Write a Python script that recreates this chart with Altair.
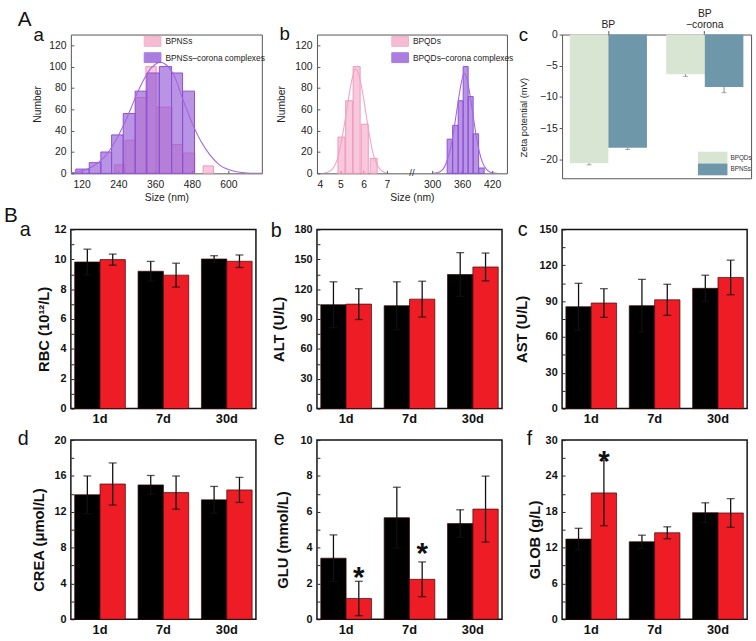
import altair as alt
import pandas as pd

FONT = "Liberation Sans"

# ---------------- Panel A-a : size distribution, BPNSs ----------------
aa_series = ["BPNSs", "BPNSs–corona complexes"]
aa_pink_start = [228, 262, 296, 330, 364, 415, 452, 517]
aa_pink_end = [262, 296, 330, 364, 415, 450, 490, 551]
aa_pink_count = [8, 31, 71, 100, 62, 27, 19, 7]
aa_purple_start = [101, 145, 183, 218, 256, 295, 333, 374, 414, 450]
aa_purple_end = [145, 183, 218, 256, 295, 333, 374, 414, 450, 489]
aa_purple_count = [4, 10, 20, 36, 56, 77, 94, 100, 94, 77]
aa_fit_x = [85, 110, 140, 170, 200, 230, 260, 280, 300, 320, 340, 360, 376, 395,
            420, 450, 480, 510, 540, 570, 600, 630, 660, 709]
aa_fit_y = [0.5, 1.5, 4, 9, 17, 30, 47, 60, 74, 86, 96, 102, 104, 102,
            93, 70, 48, 30, 17, 8, 3.5, 1.3, 0.4, 0]
aa_ticks = [120, 240, 360, 480, 600]
a_count_ticks = [0, 20, 40, 60, 80, 100, 120]

# ---------------- Panel A-b : size distribution, BPQDs (broken axis) ----------------
ab_series = ["BPQDs", "BPQDs–corona complexes"]
ab_qd_start = [4.90, 5.23, 5.55, 5.90, 6.28]
ab_qd_end = [5.20, 5.53, 5.85, 6.20, 6.58]
ab_qd_count = [34, 68, 100, 46, 14]
ab_qdc_start = [330, 341, 352, 362, 372, 382, 393]
ab_qdc_end = [341, 352, 362, 372, 382, 393, 404]
ab_qdc_count = [32, 45, 68, 100, 72, 37, 5]
ab_qd_fit_x = [4.3, 4.5, 4.7, 4.9, 5.1, 5.3, 5.5, 5.65, 5.8, 6.0, 6.2, 6.4, 6.6, 6.8, 7.0]
ab_qd_fit_y = [0.3, 1.5, 5, 15, 36, 63, 88, 98, 92, 70, 42, 19, 7, 2, 0.3]
ab_qdc_fit_x = [300, 310, 320, 330, 340, 350, 358, 364, 370, 380, 390, 400, 410, 420, 430]
ab_qdc_fit_y = [0.1, 0.6, 3, 12, 31, 61, 84, 94, 88, 60, 30, 11, 3, 0.6, 0.1]
ab_ticks_left = [4, 5, 6, 7]
ab_ticks_right = [300, 360, 420]
ab_left_end = 8.0      # last size shown before the break
ab_right_start = 263   # first size shown after the break

# broken-axis mapping (position units along the axis)
AB_LK = 23.7     # per nm, left segment
AB_RK = 0.508    # per nm, right segment
AB_R0 = 117.0    # position of 300 nm


def pos_left(s):
    return (s - 4.0) * AB_LK


def pos_right(s):
    return AB_R0 + (s - 300.0) * AB_RK


# ---------------- Panel A-c : zeta potential ----------------
ac_groups = ["BP", "BP−corona"]
ac_labels = ["BP", "−corona"]
ac_label_top = ["", "BP"]
ac_series = ["BPQDs", "BPNSs"]
ac_bpqds = [-20.6, -6.35]
ac_bpqds_err = [0.25, 0.35]
ac_bpns = [-18.1, -8.4]
ac_bpns_err = [0.3, 0.9]

# ---------------- Panel B : blood biochemistry ----------------
b_days = ["1d", "7d", "30d"]
rbc_ctrl = [9.82, 9.2, 10.02]
rbc_ctrl_err = [0.86, 0.66, 0.22]
rbc_bp = [9.98, 8.94, 9.87]
rbc_bp_err = [0.37, 0.8, 0.42]
alt_ctrl = [104.4, 103.4, 134.7]
alt_ctrl_err = [23, 24, 22]
alt_bp = [105, 110, 142.3]
alt_bp_err = [15.5, 18, 14]
ast_ctrl = [85.3, 86.2, 100.7]
ast_ctrl_err = [19.6, 22, 11]
ast_bp = [88.4, 91.1, 109.8]
ast_bp_err = [12, 13, 14.5]
crea_ctrl = [13.9, 15.0, 13.33]
crea_ctrl_err = [2.1, 1.05, 1.5]
crea_bp = [15.1, 14.14, 14.44]
crea_bp_err = [2.35, 1.85, 1.4]
glu_ctrl = [3.41, 5.67, 5.34]
glu_ctrl_err = [1.3, 1.7, 0.77]
glu_bp = [1.16, 2.23, 6.15]
glu_bp_err = [0.96, 0.97, 1.84]
glob_ctrl = [13.43, 12.98, 17.85]
glob_ctrl_err = [1.8, 1.1, 1.65]
glob_bp = [21.16, 14.48, 17.8]
glob_bp_err = [5.5, 1.0, 2.4]
glu_stars_day = ["1d", "7d"]
glu_stars_y = [2.76, 4.05]
glob_stars_day = ["1d"]
glob_stars_y = [27.6]

PINK_F, PINK_S, PINK_L = "#f4a6c6", "#ef98bb", "#f2a2c2"
PURP_F, PURP_S, PURP_L = "#8e52d3", "#8c4fd4", "#a566dc"


def letter_layer(txt, dx, dy, size=20):
    return alt.Chart(pd.DataFrame({"t": [txt]})).mark_text(
        font=FONT, fontSize=size, align="left", baseline="alphabetic", color="#111"
    ).encode(x=alt.value(dx), y=alt.value(dy), text="t:N")


A_AX = dict(labelFont=FONT, labelFontSize=10.5, labelColor="#222", titleFont=FONT,
            titleFontSize=10.5, titleFontWeight="normal", titleColor="#222",
            domain=False, grid=False, tickSize=3, offset=-3, tickColor="#555")


def hist_legend(lx):
    return alt.Legend(title=None, orient="none", legendX=lx, legendY=1.5,
                      symbolType="M-1.7,-1H1.7V1H-1.7Z", symbolSize=100,
                      symbolStrokeWidth=1, symbolOpacity=0.75, labelFont=FONT,
                      labelFontSize=8.5, labelColor="#222", labelOffset=7.5,
                      rowPadding=1.5, padding=0)


# ----- A-a chart -----
aa_df = pd.DataFrame({
    "start": aa_pink_start + aa_purple_start,
    "end": aa_pink_end + aa_purple_end,
    "count": aa_pink_count + aa_purple_count,
    "series": [aa_series[0]] * len(aa_pink_start) + [aa_series[1]] * len(aa_purple_start),
})
aa_fit = pd.DataFrame({"x": aa_fit_x, "y": aa_fit_y})
aa_xs = alt.Scale(domain=[85, 709], nice=False, zero=False)
a_ys = alt.Scale(domain=[0, 130], nice=False)
aa_xax = alt.Axis(values=aa_ticks, title="Size (nm)", labelPadding=6, titlePadding=3, **A_AX)
aa_yax = alt.Axis(values=a_count_ticks, title="Number", labelPadding=5, titleX=-32, **A_AX)
aa_leg = hist_legend(77.5)
aa_bars = alt.Chart(aa_df).mark_bar(fillOpacity=0.62, strokeWidth=1).encode(
    x=alt.X("start:Q", scale=aa_xs, axis=aa_xax), x2="end:Q",
    y=alt.Y("count:Q", scale=a_ys, axis=aa_yax), y2=alt.datum(0),
    fill=alt.Fill("series:N", scale=alt.Scale(domain=aa_series, range=[PINK_F, PURP_F]), legend=aa_leg),
    stroke=alt.Stroke("series:N", scale=alt.Scale(domain=aa_series, range=[PINK_S, PURP_S]), legend=aa_leg),
)
aa_line = alt.Chart(aa_fit).mark_line(color=PURP_L, strokeWidth=1.1, interpolate="monotone", clip=True).encode(
    x=alt.X("x:Q", scale=aa_xs, axis=aa_xax), y=alt.Y("y:Q", scale=a_ys, axis=aa_yax))
panel_aa = alt.layer(aa_bars, aa_line, letter_layer("a", -38, 6.5, 19),
                     letter_layer("A", -54, -8.5, 21)).properties(
    width=194, height=141, view=alt.ViewBackground(stroke="#555", strokeWidth=1))

# ----- A-b chart -----
ab_df = pd.DataFrame({
    "start": [pos_left(s) for s in ab_qd_start] + [pos_right(s) for s in ab_qdc_start],
    "end": [pos_left(s) for s in ab_qd_end] + [pos_right(s) for s in ab_qdc_end],
    "count": ab_qd_count + ab_qdc_count,
    "series": [ab_series[0]] * len(ab_qd_start) + [ab_series[1]] * len(ab_qdc_start),
})
ab_fit_qd = pd.DataFrame({"x": [pos_left(s) for s in ab_qd_fit_x], "y": ab_qd_fit_y})
ab_fit_qdc = pd.DataFrame({"x": [pos_right(s) for s in ab_qdc_fit_x], "y": ab_qdc_fit_y})
ab_tick_pos = [pos_left(s) for s in ab_ticks_left] + [pos_right(s) for s in ab_ticks_right]
ab_label_expr = (f"datum.value < {AB_R0 - 10} ? format(datum.value / {AB_LK} + 4, '.0f')"
                 f" : format((datum.value - {AB_R0}) / {AB_RK} + 300, '.0f')")
ab_xs = alt.Scale(domain=[0, 193], nice=False, zero=False)
ab_xax = alt.Axis(values=ab_tick_pos, labelExpr=ab_label_expr, title="Size (nm)",
                  labelPadding=6, titlePadding=3, **A_AX)
ab_yax = alt.Axis(values=a_count_ticks, title="Number", labelPadding=5, titleX=-34, **A_AX)
ab_leg = hist_legend(79)
ab_bars = alt.Chart(ab_df).mark_bar(fillOpacity=0.62, strokeWidth=1).encode(
    x=alt.X("start:Q", scale=ab_xs, axis=ab_xax), x2="end:Q",
    y=alt.Y("count:Q", scale=a_ys, axis=ab_yax), y2=alt.datum(0),
    fill=alt.Fill("series:N", scale=alt.Scale(domain=ab_series, range=[PINK_F, PURP_F]), legend=ab_leg),
    stroke=alt.Stroke("series:N", scale=alt.Scale(domain=ab_series, range=[PINK_S, PURP_S]), legend=ab_leg),
)
ab_line1 = alt.Chart(ab_fit_qd).mark_line(color=PINK_L, strokeWidth=1.1, interpolate="monotone", clip=True).encode(
    x=alt.X("x:Q", scale=ab_xs, axis=ab_xax), y=alt.Y("y:Q", scale=a_ys, axis=ab_yax))
ab_line2 = alt.Chart(ab_fit_qdc).mark_line(color=PURP_L, strokeWidth=1.1, interpolate="monotone", clip=True).encode(
    x=alt.X("x:Q", scale=ab_xs, axis=ab_xax), y=alt.Y("y:Q", scale=a_ys, axis=ab_yax))
ab_break = alt.Chart(pd.DataFrame({
    "x": [(pos_left(ab_left_end) + pos_right(ab_right_start)) / 2], "y": [0], "t": ["//"]
})).mark_text(font=FONT, fontSize=10, color="#333", baseline="middle").encode(
    x=alt.X("x:Q", scale=ab_xs, axis=ab_xax), y=alt.Y("y:Q", scale=a_ys, axis=ab_yax), text="t:N")
panel_ab = alt.layer(ab_bars, ab_line1, ab_line2, ab_break, letter_layer("b", -38, 6, 19)).properties(
    width=193, height=141, view=alt.ViewBackground(stroke="#555", strokeWidth=1))

# ----- A-c chart -----
ac_df = pd.DataFrame({
    "group": ac_groups * 2,
    "series": [ac_series[0]] * 2 + [ac_series[1]] * 2,
    "val": ac_bpqds + ac_bpns,
    "err": ac_bpqds_err + ac_bpns_err,
})
ac_df["lo"] = ac_df["val"] - ac_df["err"]
ac_label_expr = " : ".join(
    f"datum.value == '{g}' ? '{lab}'" for g, lab in zip(ac_groups, ac_labels)) + " : datum.value"
ac_x = alt.X("group:N", sort=ac_groups, scale=alt.Scale(paddingInner=0.2, paddingOuter=0.08),
             axis=alt.Axis(orient="top", title=None, labelAngle=0, labelExpr=ac_label_expr,
                           labelFont=FONT, labelFontSize=10.5, labelColor="#222",
                           tickSize=4, tickColor="#555", domain=False, labelPadding=1))
ac_xo = alt.XOffset("series:N", sort=ac_series, scale=alt.Scale(paddingInner=0, paddingOuter=0))
ac_yax = alt.Axis(values=[0, -5, -10, -15, -20], title="Zeta potential (mV)", titleX=-34, titleY=84,
                  labelFont=FONT, labelFontSize=10.5, labelColor="#222", titleFont=FONT,
                  titleFontSize=9.5, titleFontWeight="normal", titleColor="#222",
                  domain=False, grid=False, tickSize=3, tickColor="#555", labelPadding=2)
ac_ys = alt.Scale(domain=[-23, 0], nice=False)
ac_bars = alt.Chart(ac_df).mark_bar().encode(
    x=ac_x, xOffset=ac_xo, y=alt.Y("val:Q", scale=ac_ys, axis=ac_yax),
    color=alt.Color("series:N", scale=alt.Scale(domain=ac_series, range=["#d9e5d3", "#6e98aa"]),
                    legend=alt.Legend(title=None, orient="none", legendX=147, legendY=119,
                                      symbolType="M-2.5,-1H2.5V1H-2.5Z", symbolSize=144,
                                      symbolStrokeWidth=0, labelFont=FONT, labelFontSize=6.5,
                                      labelColor="#333", labelOffset=12, rowPadding=0, padding=0)),
)
ac_rule = alt.Chart(ac_df).mark_rule(color="#888", strokeWidth=1).encode(
    x=ac_x, xOffset=ac_xo, y=alt.Y("val:Q", scale=ac_ys, axis=ac_yax), y2="lo:Q")
ac_cap = alt.Chart(ac_df).mark_tick(orient="horizontal", size=5, thickness=1, color="#888").encode(
    x=ac_x, xOffset=ac_xo, y=alt.Y("lo:Q", scale=ac_ys, axis=ac_yax))
ac_top = alt.Chart(pd.DataFrame({"group": ac_groups, "t": ac_label_top})).mark_text(
    font=FONT, fontSize=10.5, color="#222", baseline="alphabetic").encode(
    x=ac_x, y=alt.value(-18), text="t:N")
panel_ac = alt.layer(ac_bars, ac_rule, ac_cap, ac_top, letter_layer("c", -44, 7, 19)).properties(
    width=192, height=146, view=alt.ViewBackground(stroke="#555", strokeWidth=1))


# ----- B panels -----
def b_panel(letter, ldx, ldy, title, title_x, ymax, minor, major, ctrl, ctrl_err, bp, bp_err,
            star_days=None, star_y=None, big=None):
    df = pd.DataFrame({
        "day": b_days * 2,
        "grp": ["ctrl"] * 3 + ["bp"] * 3,
        "val": ctrl + bp,
        "err": ctrl_err + bp_err,
    })
    df["lo"] = df["val"] - df["err"]
    df["hi"] = df["val"] + df["err"]
    x = alt.X("day:N", sort=b_days, scale=alt.Scale(paddingInner=0.2, paddingOuter=0.06),
              axis=alt.Axis(title=None, labelAngle=0, labelFont=FONT, labelFontWeight="bold",
                            labelFontSize=13, labelColor="#111", ticks=False, domain=False,
                            labelPadding=4))
    xo = alt.XOffset("grp:N", sort=["ctrl", "bp"], scale=alt.Scale(paddingInner=0, paddingOuter=0))
    vals = []
    v = 0
    while v <= ymax + 1e-9:
        vals.append(round(v, 6))
        v += minor
    yax = alt.Axis(values=vals, labelExpr=f"abs(datum.value % {major}) < 1e-6 ? datum.label : ''",
                   title=title, titleX=title_x, titleY=101, titleFont=FONT, titleFontSize=15,
                   titleFontWeight="bold", titleColor="#111", labelFont=FONT, labelFontSize=11,
                   labelFontWeight="bold", labelColor="#111", labelPadding=5, domain=False,
                   grid=False, tickSize=3, offset=-3, tickColor="#222", labelOverlap=False)
    ys = alt.Scale(domain=[0, ymax], nice=False)
    bars = alt.Chart(df).mark_bar(stroke="#3a0606", strokeWidth=0.7).encode(
        x=x, xOffset=xo, y=alt.Y("val:Q", scale=ys, axis=yax),
        color=alt.Color("grp:N", scale=alt.Scale(domain=["ctrl", "bp"], range=["#000000", "#ee1c24"]),
                        legend=None))
    rule = alt.Chart(df).mark_rule(color="#111", strokeWidth=1.3).encode(
        x=x, xOffset=xo, y=alt.Y("lo:Q", scale=ys, axis=yax), y2="hi:Q")
    cap_hi = alt.Chart(df).mark_tick(orient="horizontal", size=8, thickness=1.3, color="#111").encode(
        x=x, xOffset=xo, y=alt.Y("hi:Q", scale=ys, axis=yax))
    cap_lo = alt.Chart(df).mark_tick(orient="horizontal", size=8, thickness=1.3, color="#111").encode(
        x=x, xOffset=xo, y=alt.Y("lo:Q", scale=ys, axis=yax))
    layers = [bars, rule, cap_hi, cap_lo]
    if star_days:
        sdf = pd.DataFrame({"day": star_days, "grp": ["bp"] * len(star_days), "y": star_y,
                            "t": ["*"] * len(star_days)})
        layers.append(alt.Chart(sdf).mark_text(font=FONT, fontSize=30, fontWeight="bold",
                                               baseline="middle", dy=8, color="#111").encode(
            x=x, xOffset=xo, y=alt.Y("y:Q", scale=ys, axis=yax), text="t:N"))
    layers.append(letter_layer(letter, ldx, ldy, 20))
    if big:
        layers.append(letter_layer(big, -68, -8, 21))
    return alt.layer(*layers).properties(
        width=188, height=182, view=alt.ViewBackground(stroke="#111", strokeWidth=1.5))


panel_ba = b_panel("a", -52, 7, "RBC (10¹²/L)", -23, 12, 1, 2, rbc_ctrl, rbc_ctrl_err,
                   rbc_bp, rbc_bp_err, big="B")
panel_bb = b_panel("b", -47, 8, "ALT (U/L)", -34, 180, 15, 30, alt_ctrl, alt_ctrl_err,
                   alt_bp, alt_bp_err)
panel_bc = b_panel("c", -45, 7, "AST (U/L)", -36, 150, 15, 30, ast_ctrl, ast_ctrl_err,
                   ast_bp, ast_bp_err)
panel_bd = b_panel("d", -54, 5, "CREA (μmol/L)", -28, 20, 2, 4, crea_ctrl, crea_ctrl_err,
                   crea_bp, crea_bp_err)
panel_be = b_panel("e", -44, 5, "GLU (mmol/L)", -30, 10, 1, 2, glu_ctrl, glu_ctrl_err,
                   glu_bp, glu_bp_err, glu_stars_day, glu_stars_y)
panel_bf = b_panel("f", -36, 5, "GLOB (g/L)", -23, 30, 3, 6, glob_ctrl, glob_ctrl_err,
                   glob_bp, glob_bp_err, glob_stars_day, glob_stars_y)


def spacer(w, h):
    return alt.Chart(pd.DataFrame({"d": [0]})).mark_point(opacity=0, size=1).encode(
        x=alt.value(w), y=alt.value(1)).properties(
        width=w, height=h, view=alt.ViewBackground(stroke="transparent"))


chart = alt.concat(
    spacer(1, 166), panel_aa, panel_ab, panel_ac,
    spacer(15, 1), panel_ba, panel_bb, panel_bc,
    spacer(15, 1), panel_bd, panel_be, panel_bf,
    columns=4, bounds="flush",
    align=alt.RowColLayoutAlign(row="each", column="none"),
    spacing=alt.RowColnumber(row=32, column=56),
).resolve_scale(
    x="independent", y="independent", color="independent", fill="independent",
    stroke="independent", xOffset="independent",
).resolve_legend(
    color="independent", fill="independent", stroke="independent",
).properties(
    padding={"left": 0, "top": 3, "right": 3, "bottom": 0},
    background="white",
).configure(font=FONT)

chart.save("out.html", embed_options={"renderer": "svg", "actions": False})
